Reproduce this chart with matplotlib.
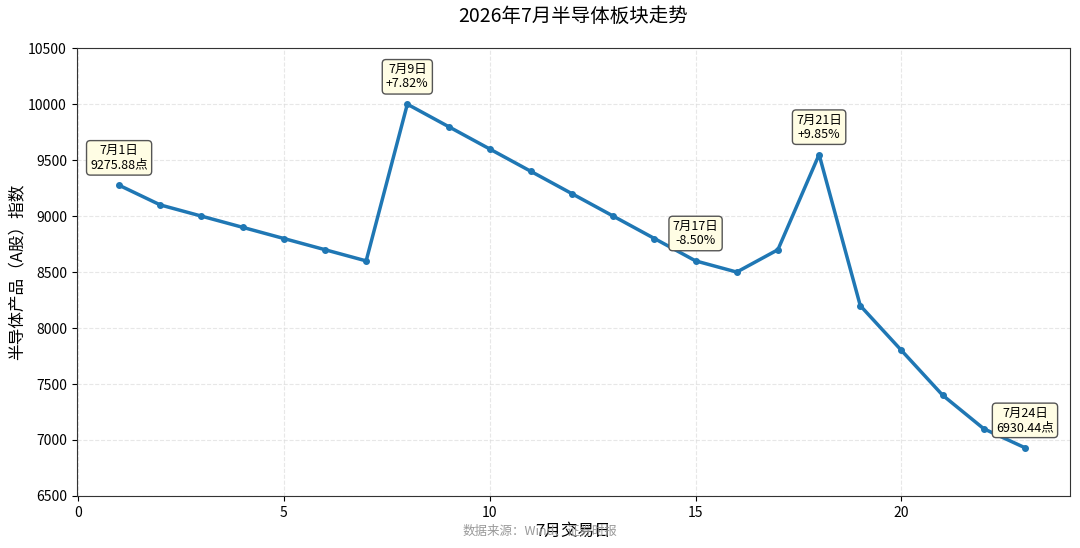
import matplotlib
matplotlib.use('Agg')
import matplotlib.pyplot as plt

plt.rcParams['font.family'] = ['Noto Sans CJK SC', 'DejaVu Sans']
plt.rcParams['axes.unicode_minus'] = False

# trading day index and index close
days = list(range(1, 24))
values = [9275.88, 9100, 9000, 8900, 8800, 8700, 8600, 10000, 9800, 9600,
          9400, 9200, 9000, 8800, 8600, 8500, 8700, 9550, 8200, 7800,
          7400, 7100, 6930.44]

# annotated points
note_days = [1, 8, 15, 18, 23]
note_texts = ['7月1日\n9275.88点', '7月9日\n+7.82%', '7月17日\n-8.50%',
              '7月21日\n+9.85%', '7月24日\n6930.44点']


def main():
    fig, ax = plt.subplots(figsize=(10.8, 5.48), dpi=100)
    fig.subplots_adjust(left=0.071, right=0.991, top=0.912, bottom=0.095)

    ax.plot(days, values, color='#1f77b4', linewidth=2.5, marker='o', markersize=4)

    for d, txt in zip(note_days, note_texts):
        y = values[days.index(d)]
        ax.annotate(txt, xy=(d, y), xytext=(0, 10), textcoords='offset points',
                    ha='center', va='bottom', fontsize=9, linespacing=1.1,
                    bbox=dict(boxstyle='round,pad=0.3', fc='#fffde4', ec='#555555', lw=1))

    ax.set_xlim(-0.03, 24.1)
    ax.set_ylim(6500, 10500)
    ax.set_title('2026年7月半导体板块走势', fontsize=14, pad=19)
    ax.set_xlabel('7月交易日', fontsize=12, labelpad=2)
    ax.set_ylabel('半导体产品（A股）指数', fontsize=12, labelpad=2)
    ax.grid(True, linestyle='--', color='#dddddd', alpha=0.7)
    ax.tick_params(labelsize=10)
    for s in ax.spines.values():
        s.set_color('#333333')

    fig.text(0.5, 0.031, '数据来源：Wind、证券时报', ha='center', va='center',
             fontsize=9, color='#999999')

    fig.savefig('out.png', dpi=100)


if __name__ == "__main__":
    main()
